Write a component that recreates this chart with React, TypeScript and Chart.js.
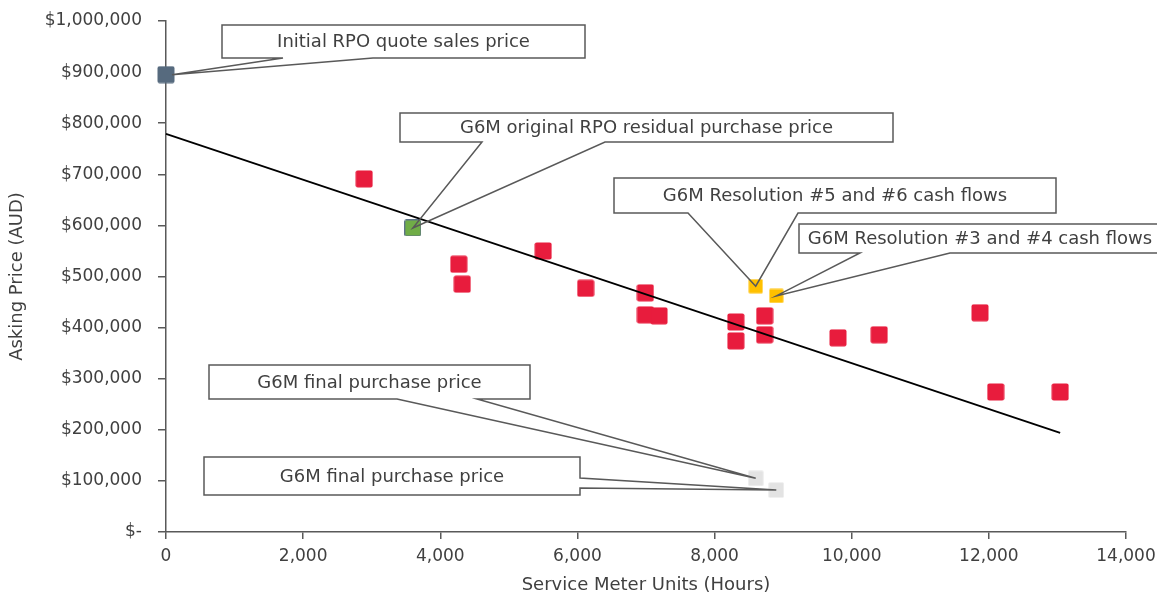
import React, { useEffect, useRef } from "react";
import { Chart, registerables } from "chart.js";

Chart.register(...registerables);

// ---------- Data ----------
const initialQuoteX = [0];
const initialQuoteY = [895000];

const originalRpoX = [3600];
const originalRpoY = [595000];

const marketX = [2890, 4270, 4320, 5500, 6120, 6990, 6990, 7190, 8310, 8310, 8730, 8730, 9800, 10400, 11870, 12100, 13040];
const marketY = [691000, 524000, 485000, 550000, 477000, 468000, 425000, 423000, 411000, 374000, 423000, 386000, 380000, 386000, 429000, 274000, 274000];

const resolutionX = [8600, 8900];
const resolutionY = [481000, 462000];

const finalX = [8600, 8900];
const finalY = [105000, 82000];

const trendX = [0, 13040];
const trendY = [779000, 194000];

const xTicks = [0, 2000, 4000, 6000, 8000, 10000, 12000, 14000];
const yTicks = [0, 100000, 200000, 300000, 400000, 500000, 600000, 700000, 800000, 900000, 1000000];

const calloutTexts = [
  "Initial RPO quote sales price",
  "G6M original RPO residual purchase price",
  "G6M Resolution #5 and #6 cash flows",
  "G6M Resolution #3 and #4 cash flows",
  "G6M final purchase price",
  "G6M final purchase price",
];

// ---------- Styling ----------
const FONT = "'DejaVu Sans', sans-serif";
const TEXT = "#404040";
const AXIS = "#595959";

const pts = (xs: number[], ys: number[]) => xs.map((x, i) => ({ x, y: ys[i] }));

function square(size: number, fill: string, radius: number, stroke?: string) {
  const c = document.createElement("canvas");
  c.width = size;
  c.height = size;
  const ctx = c.getContext("2d")!;
  ctx.beginPath();
  ctx.roundRect(0.5, 0.5, size - 1, size - 1, radius);
  ctx.fillStyle = fill;
  ctx.fill();
  if (stroke) {
    ctx.strokeStyle = stroke;
    ctx.lineWidth = 1;
    ctx.stroke();
  }
  return c;
}

type Callout = {
  text: string;
  box: [number, number, number, number];
  side: "bottom" | "right";
  bases: [number, number];
  tip: [number, number];
  dx?: number;
};

const callouts: Callout[] = [
  { text: calloutTexts[0], box: [222, 25, 585, 58], side: "bottom", bases: [283, 373], tip: [initialQuoteX[0], initialQuoteY[0]], dx: 6 },
  { text: calloutTexts[1], box: [400, 113, 893, 142], side: "bottom", bases: [482, 605], tip: [originalRpoX[0], originalRpoY[0]] },
  { text: calloutTexts[2], box: [614, 178, 1056, 213], side: "bottom", bases: [688, 798], tip: [resolutionX[0], resolutionY[0]] },
  { text: calloutTexts[3], box: [799, 224, 1161, 253], side: "bottom", bases: [860, 950], tip: [resolutionX[1], resolutionY[1]] },
  { text: calloutTexts[4], box: [209, 365, 530, 399], side: "bottom", bases: [397, 477], tip: [finalX[0], finalY[0]] },
  { text: calloutTexts[5], box: [204, 457, 580, 495], side: "right", bases: [478, 488], tip: [finalX[1], finalY[1]] },
];

const calloutPlugin = {
  id: "callouts",
  afterDatasetsDraw(chart: any) {
    const { ctx } = chart;
    const xs = chart.scales.x;
    const ys = chart.scales.y;
    callouts.forEach((c) => {
      const tx = xs.getPixelForValue(c.tip[0]) + (c.dx || 0);
      const ty = ys.getPixelForValue(c.tip[1]);
      const [l, t, r, b] = c.box;
      ctx.save();
      ctx.fillStyle = "#ffffff";
      ctx.fillRect(l, t, r - l, b - t);
      ctx.beginPath();
      if (c.side === "bottom") {
        const [b1, b2] = c.bases;
        ctx.moveTo(b1, b);
        ctx.lineTo(l, b);
        ctx.lineTo(l, t);
        ctx.lineTo(r, t);
        ctx.lineTo(r, b);
        ctx.lineTo(b2, b);
        ctx.lineTo(tx, ty);
        ctx.closePath();
      } else {
        const [y1, y2] = c.bases;
        ctx.moveTo(r, y1);
        ctx.lineTo(r, t);
        ctx.lineTo(l, t);
        ctx.lineTo(l, b);
        ctx.lineTo(r, b);
        ctx.lineTo(r, y2);
        ctx.lineTo(tx, ty);
        ctx.closePath();
      }
      ctx.strokeStyle = AXIS;
      ctx.lineWidth = 1.5;
      ctx.lineJoin = "miter";
      ctx.stroke();
      ctx.fillStyle = TEXT;
      ctx.font = `18px ${FONT}`;
      ctx.textAlign = "center";
      ctx.textBaseline = "middle";
      ctx.fillText(c.text, (l + r) / 2, (t + b) / 2 + 1);
      ctx.restore();
    });
  },
};

export default function App() {
  const ref = useRef<HTMLCanvasElement>(null);

  useEffect(() => {
    if (!ref.current) return;
    const redSq = square(18, "#E81C3D", 2);
    const blueSq = square(18, "#566A7E", 2);
    const greenSq = square(17, "#70AD47", 1.5, "#5D7288");
    const orangeSq = square(15, "#FFC000", 1);
    const greySq = square(16, "#E3E3E3", 1);

    const chart = new Chart(ref.current, {
      type: "scatter",
      data: {
        datasets: [
          {
            label: "Trend",
            data: pts(trendX, trendY),
            showLine: true,
            borderColor: "#000000",
            borderWidth: 1.7,
            pointRadius: 0,
            order: 0,
            clip: false as any,
          },
          { label: "Market", data: pts(marketX, marketY), pointStyle: redSq as any, order: 1, clip: false as any },
          { label: "Initial", data: pts(initialQuoteX, initialQuoteY), pointStyle: blueSq as any, order: 1, clip: false as any },
          { label: "Original RPO", data: pts(originalRpoX, originalRpoY), pointStyle: greenSq as any, order: 1, clip: false as any },
          { label: "Resolution", data: pts(resolutionX, resolutionY), pointStyle: orangeSq as any, order: 1, clip: false as any },
          { label: "Final", data: pts(finalX, finalY), pointStyle: greySq as any, order: 1, clip: false as any },
        ],
      },
      options: {
        animation: false,
        responsive: false,
        events: [],
        layout: { padding: { top: 21, right: 31, left: 0, bottom: 0 } },
        plugins: { legend: { display: false }, tooltip: { enabled: false } },
        scales: {
          x: {
            type: "linear",
            min: 0,
            max: 14000,
            afterBuildTicks: (s: any) => {
              s.ticks = xTicks.map((v) => ({ value: v }));
            },
            afterFit: (s: any) => {
              s.height = 64;
              s.paddingLeft = 0;
              s.paddingRight = 0;
            },
            ticks: {
              color: TEXT,
              font: { family: FONT, size: 17 },
              padding: 7,
              maxRotation: 0,
              callback: (v: any) => Number(v).toLocaleString("en-US"),
            },
            grid: { display: true, drawOnChartArea: false, drawTicks: true, tickLength: 7, color: AXIS, lineWidth: 1.5 },
            border: { display: true, color: AXIS, width: 1.5 },
            title: {
              display: true,
              text: "Service Meter Units (Hours)",
              color: TEXT,
              font: { family: FONT, size: 18 },
              padding: { top: 0, bottom: 0 },
            },
          },
          y: {
            type: "linear",
            min: 0,
            max: 1000000,
            afterBuildTicks: (s: any) => {
              s.ticks = yTicks.map((v) => ({ value: v }));
            },
            afterFit: (s: any) => {
              s.width = 166;
              s.paddingTop = 0;
              s.paddingBottom = 0;
            },
            ticks: {
              color: TEXT,
              font: { family: FONT, size: 17 },
              padding: 16,
              callback: (v: any) => (Number(v) === 0 ? "$-" : "$" + Number(v).toLocaleString("en-US")),
            },
            grid: { display: true, drawOnChartArea: false, drawTicks: true, tickLength: 8, color: AXIS, lineWidth: 1.5 },
            border: { display: true, color: AXIS, width: 1.5 },
            title: {
              display: true,
              text: "Asking Price (AUD)",
              color: TEXT,
              font: { family: FONT, size: 18 },
              padding: { top: 7, bottom: 0 },
            },
          },
        },
      },
      plugins: [calloutPlugin],
    });
    return () => chart.destroy();
  }, []);

  return (
    <div style={{ position: "absolute", left: 0, top: 0, width: 1157, height: 596, background: "#fff" }}>
      <canvas ref={ref} width={1157} height={596} style={{ display: "block" }} />
    </div>
  );
}
